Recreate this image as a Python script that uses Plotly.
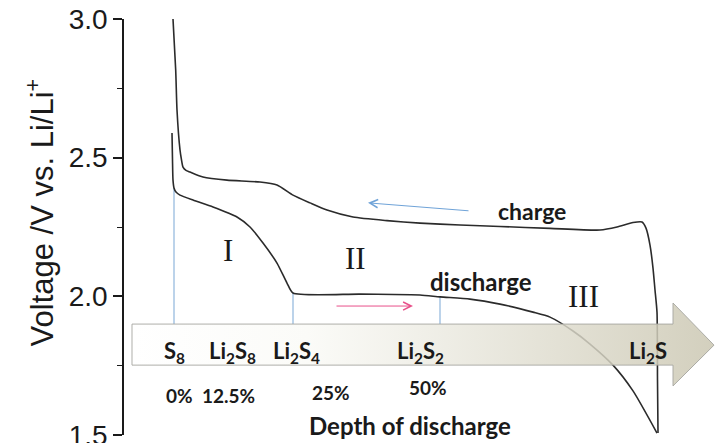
import plotly.graph_objects as go

# ---- data (x = depth-of-discharge position in arbitrary units, y = voltage V) ----
charge_x = [49, 51.7, 53, 56, 57.5, 59, 62, 66, 79, 103, 136, 153, 169, 186, 203, 229, 263, 296,
            336, 376, 426, 476, 493, 509, 518, 522, 526, 529, 531, 533, 533.5, 534]
charge_v = [3.000, 2.816, 2.672, 2.528, 2.492, 2.466, 2.454, 2.448, 2.430, 2.419, 2.412, 2.401,
            2.365, 2.337, 2.311, 2.286, 2.273, 2.264, 2.257, 2.252, 2.245, 2.239, 2.250, 2.266,
            2.268, 2.246, 2.185, 2.102, 2.023, 1.943, 1.698, 1.507]

discharge_x = [48, 48.5, 49, 50, 52, 56, 69, 89, 113, 126, 139, 153, 163, 169, 236, 296, 316,
               346, 376, 409, 426, 449, 466, 489, 509, 533]
discharge_v = [2.589, 2.492, 2.419, 2.391, 2.376, 2.365, 2.347, 2.322, 2.286, 2.250, 2.192, 2.120,
               2.048, 2.012, 2.008, 2.005, 1.998, 1.990, 1.972, 1.943, 1.925, 1.875, 1.828, 1.752,
               1.659, 1.507]

# phase boundaries (x position, voltage on the discharge curve)
marker_x = [50, 169, 316]
marker_v = [2.391, 2.012, 1.998]
arrow_top_v = 1.900

species = ["S<sub>8</sub>", "Li<sub>2</sub>S<sub>8</sub>", "Li<sub>2</sub>S<sub>4</sub>",
           "Li<sub>2</sub>S<sub>2</sub>", "Li<sub>2</sub>S"]
species_x = [50, 108, 172, 296, 524]
species_v = 1.799

dod_labels = ["0%", "12.5%", "25%", "50%"]
dod_x = [55, 104, 207, 304]
dod_v = [1.644, 1.641, 1.655, 1.673]

regions = ["I", "II", "III"]
region_x = [104, 231, 459]
region_v = [2.167, 2.138, 1.998]

# big "depth of discharge" arrow outline
big_arrow_x = [8, 549, 549, 590, 549, 549, 8, 8]
big_arrow_v = [1.900, 1.900, 1.976, 1.824, 1.677, 1.752, 1.752, 1.900]

LABEL_FONT = "Lato, Carlito, 'Open Sans', sans-serif"
AXIS_FONT = "'Liberation Sans', Arial, sans-serif"
INK = "#1a1a1a"
CURVE = "#2b2b2b"

fig = go.Figure()

# boundary lines
for mx, mv in zip(marker_x, marker_v):
    fig.add_trace(go.Scatter(x=[mx, mx], y=[mv, arrow_top_v], mode="lines",
                             line=dict(color="#8fb6dc", width=1.2), hoverinfo="skip",
                             showlegend=False))

fig.add_trace(go.Scatter(x=charge_x, y=charge_v, mode="lines",
                         line=dict(color=CURVE, width=1.6, shape="spline", smoothing=0.6),
                         showlegend=False, hoverinfo="skip"))
fig.add_trace(go.Scatter(x=discharge_x, y=discharge_v, mode="lines",
                         line=dict(color=CURVE, width=1.6, shape="spline", smoothing=0.6),
                         showlegend=False, hoverinfo="skip"))

# big gradient arrow (semi transparent, on top of curves)
fig.add_trace(go.Scatter(x=big_arrow_x, y=big_arrow_v, mode="lines", fill="toself",
                         fillgradient=dict(type="horizontal",
                                           colorscale=[[0, "rgba(255,255,255,0.80)"],
                                                       [0.3, "rgba(250,250,246,0.78)"],
                                                       [1, "rgba(203,199,178,0.85)"]]),
                         line=dict(color="rgba(165,165,160,0.9)", width=1),
                         showlegend=False, hoverinfo="skip"))

annotations = []
for t, x in zip(species, species_x):
    annotations.append(dict(x=x, y=species_v, text=t, showarrow=False,
                            font=dict(family=LABEL_FONT, size=22, color=INK, weight="bold")))
for t, x, v in zip(dod_labels, dod_x, dod_v):
    annotations.append(dict(x=x, y=v, text=t, showarrow=False,
                            font=dict(family=LABEL_FONT, size=19, color=INK, weight="bold")))
for t, x, v in zip(regions, region_x, region_v):
    annotations.append(dict(x=x, y=v, text=t, showarrow=False,
                            font=dict(family="'Liberation Serif', 'DejaVu Serif', serif",
                                      size=31, color=INK)))
annotations += [
    dict(x=408, y=2.308, text="charge", showarrow=False,
         font=dict(family=LABEL_FONT, size=23, color=INK, weight="bold")),
    dict(x=357, y=2.055, text="discharge", showarrow=False,
         font=dict(family=LABEL_FONT, size=24, color=INK, weight="bold")),
    dict(x=286, y=1.536, text="Depth of discharge", showarrow=False,
         font=dict(family=LABEL_FONT, size=24, color=INK, weight="bold")),
    # direction arrows
    dict(x=244, y=2.337, ax=346, ay=2.308, xref="x", yref="y", axref="x", ayref="y",
         text="", showarrow=True, arrowhead=5, arrowsize=1.6, arrowwidth=1,
         arrowcolor="#6fa3d8"),
    dict(x=289, y=1.965, ax=211, ay=1.965, xref="x", yref="y", axref="x", ayref="y",
         text="", showarrow=True, arrowhead=5, arrowsize=1.6, arrowwidth=1,
         arrowcolor="#e8508a"),
    # y axis title
    dict(x=-0.14, y=0.535, xref="paper", yref="paper", textangle=-90,
         text="Voltage /V vs. Li/Li<sup>+</sup>", showarrow=False,
         xanchor="center", yanchor="middle",
         font=dict(family=AXIS_FONT, size=31, color=INK)),
]

fig.update_layout(
    width=724, height=443,
    margin=dict(l=124, r=0, t=19, b=8, autoexpand=False),
    paper_bgcolor="white", plot_bgcolor="white",
    annotations=annotations,
    xaxis=dict(range=[0, 600], visible=False, fixedrange=True, automargin=False),
    yaxis=dict(range=[1.5, 3.0], tickvals=[1.5, 2.0, 2.5, 3.0], ticktext=["1.5", "2.0", "2.5", "3.0"],
               ticks="outside", ticklen=9, tickwidth=1.5, tickcolor=INK,
               showline=True, linecolor=INK, linewidth=1.5, showgrid=False,
               zeroline=False, ticklabeloverflow="allow", automargin=False,
               tickfont=dict(family=AXIS_FONT, size=28, color=INK),
               minor=dict(tickvals=[1.75, 2.25, 2.75], ticks="outside", ticklen=5,
                          tickwidth=1.2, tickcolor=INK),
               fixedrange=True),
)

fig.write_html("out.html")
